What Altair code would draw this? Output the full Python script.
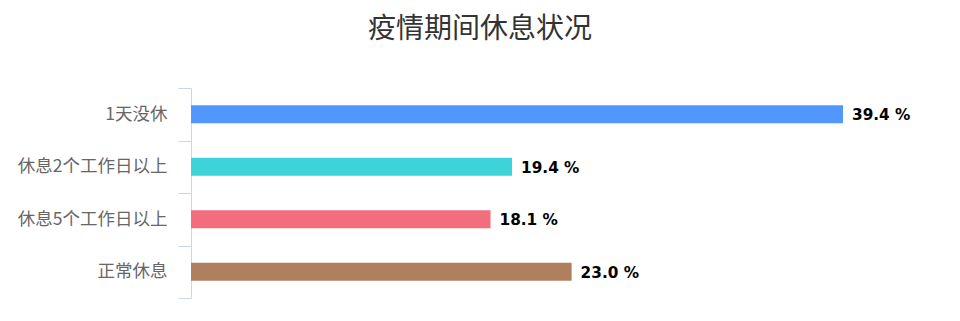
import altair as alt
import pandas as pd

categories = ["1天没休", "休息2个工作日以上", "休息5个工作日以上", "正常休息"]
values = [39.4, 19.4, 18.1, 23.0]
colors = ["#5197fd", "#3dd3d9", "#f26e7d", "#b0805e"]
labels = ["39.4 %", "19.4 %", "18.1 %", "23.0 %"]

df = pd.DataFrame({"cat": categories, "val": values, "lab": labels})

y_enc = alt.Y(
    "cat:N",
    sort=categories,
    title=None,
    scale=alt.Scale(paddingInner=0, paddingOuter=0),
    axis=alt.Axis(
        domainColor="#ccd6eb",
        tickColor="#ccd6eb",
        tickBand="extent",
        tickSize=13,
        labelPadding=11,
        labelFont="Noto Sans CJK SC",
        labelFontSize=17.5,
        labelColor="#666666",
        grid=False,
    ),
)
x_enc = alt.X("val:Q", scale=alt.Scale(domain=[0, 39.4], nice=False, zero=True), axis=None)

bars = alt.Chart(df).mark_bar(size=18).encode(
    y=y_enc,
    x=x_enc,
    color=alt.Color("cat:N", scale=alt.Scale(domain=categories, range=colors), legend=None),
)
text = alt.Chart(df).mark_text(
    align="left", baseline="middle", dx=9, dy=1, font="DejaVu Sans", fontSize=15.3, fontWeight="bold", color="#000000"
).encode(y=alt.Y("cat:N", sort=categories), x=alt.X("val:Q"), text="lab:N")

chart = (
    alt.layer(bars, text)
    .properties(
        width=652,
        height=210,
        title=alt.TitleParams(
            "疫情期间休息状况",
            font="Noto Sans CJK SC",
            fontSize=28,
            fontWeight="normal",
            color="#333333",
            anchor="middle",
            dx=-37,
            offset=35,
        ),
        autosize=alt.AutoSizeParams(type="none"),
        padding={"left": 191, "top": 88, "right": 117, "bottom": 23},
    )
    .configure_view(stroke=None)
)

chart.save("out.html", embed_options={"renderer": "svg", "actions": False})
